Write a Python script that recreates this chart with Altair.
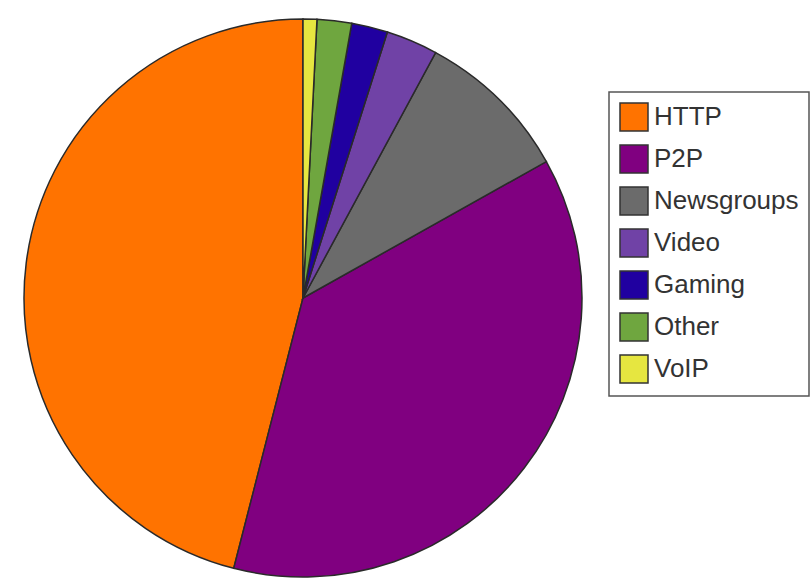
import altair as alt
import pandas as pd

categories = ["HTTP", "P2P", "Newsgroups", "Video", "Gaming", "Other", "VoIP"]
shares = [46.1, 37.2, 9.0, 3.0, 2.1, 2.0, 0.8]
colors = ["#FF7300", "#800080", "#6B6B6B", "#7042A6", "#2000A0", "#6FA63F", "#E6E640"]
# drawn clockwise from 12 o'clock: VoIP first, HTTP last
draw_order = [6, 5, 4, 3, 2, 1, 0]

df = pd.DataFrame({"protocol": categories, "share": shares, "ord": draw_order})

chart = (
    alt.Chart(df)
    .mark_arc(radius=279, stroke="#2a2a2a", strokeWidth=1.5)
    .encode(
        theta=alt.Theta("share:Q", stack=True),
        order=alt.Order("ord:Q", sort="ascending"),
        color=alt.Color(
            "protocol:N",
            scale=alt.Scale(domain=categories, range=colors),
            sort=categories,
            legend=alt.Legend(
                title=None,
                orient="none",
                legendX=609,
                legendY=92,
                symbolType="square",
                symbolSize=784,
                symbolStrokeColor="#333333",
                symbolStrokeWidth=1.5,
                symbolOpacity=1,
                labelFont="Liberation Sans",
                labelFontSize=26,
                labelColor="#333333",
                labelOffset=5,
                rowPadding=8,
                padding=10,
                strokeColor="#555555",
                fillColor="white",
            ),
        ),
        x=alt.value(303),
        y=alt.value(298),
    )
    .properties(
        width=810,
        height=587,
        autosize=alt.AutoSizeParams(type="none"),
        padding=0,
        background="white",
    )
    .configure_view(stroke=None)
    .configure_legend(strokeWidth=1.5)
)

chart.save("out.html", embed_options={"renderer": "svg", "actions": False})
